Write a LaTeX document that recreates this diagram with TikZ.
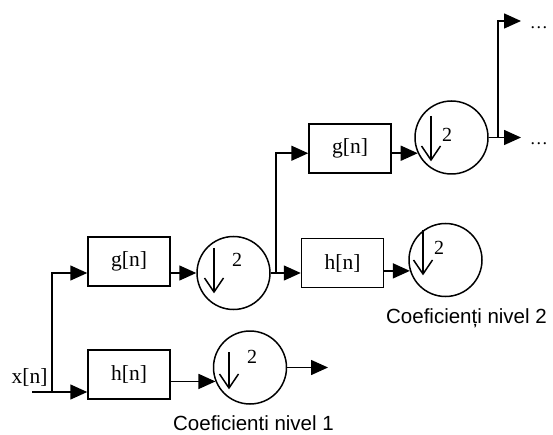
\documentclass[tikz,border=0pt]{standalone}
\usepackage{fontspec}
\setmainfont{Liberation Serif}
\newfontfamily\arialf{Liberation Sans}
\usetikzlibrary{arrows.meta,calc}
\newcommand\dnarrow[4]{%
  \draw ($(#1)+(#2,#3)$) -- ($(#1)+(#2,#4)$);
  \draw[line join=miter] ($(#1)+(#2,#4)+(-9.5,-14)$) -- ($(#1)+(#2,#4)$) -- ($(#1)+(#2,#4)+(9.5,-14)$);}
\begin{document}
\begin{tikzpicture}[x=1pt,y=-1pt,
  line width=1.5pt,
  blk/.style={draw,minimum width=82pt,minimum height=49pt,inner sep=0pt,font=\fontsize{21.5}{24}\selectfont},
  dwn/.style={draw,circle,minimum size=73pt,inner sep=0pt},
  arr/.style={-{Triangle[length=17pt,width=15pt]}},
  two/.style={font=\fontsize{20}{22}\selectfont,inner sep=0pt},
  lbl/.style={font=\arialf\fontsize{20.5}{24}\selectfont,inner sep=0pt,anchor=base},
  txt/.style={font=\fontsize{21.5}{24}\selectfont,inner sep=0pt}]
\useasboundingbox (0,0) rectangle (553,435);
% blocks
\node[blk] (g1) at (129,261.5) {g[n]};
\node[blk] (h1) at (129,374.5) {h[n]};
\node[blk] (g2) at (350,148.5) {g[n]};
\node[blk] (h2) at (342.5,263) {h[n]};
% downsamplers
\node[dwn] (c1) at (233.5,273) {};
\node[dwn] (c2) at (250,367.5) {};
\node[dwn] (c3) at (451.5,137.5) {};
\node[dwn] (c4) at (445.5,260) {};
\dnarrow{c1}{-19.5}{-25}{19}
\dnarrow{c2}{-21}{-15.5}{20.5}
\dnarrow{c3}{-20.5}{-21.5}{22.5}
\dnarrow{c4}{-22.5}{-30}{14}
\node[two] (t1) at ($(c1)+(3.5,-13)$) {2};
\node[two] (t2) at ($(c2)+(2,-10.5)$) {2};
\node[two] (t3) at ($(c3)+(-4.5,-2.5)$) {2};
\node[two] (t4) at ($(c4)+(-6.5,-12)$) {2};
% input
\node[txt] (x) at (29.5,377) {x[n]};
\coordinate (xin) at (32,392);
\coordinate (sp1) at (52,392);
\draw[arr] (xin) -- (h1.west |- xin);
\draw[arr] (sp1) |- ($(g1.west)+(0,11.5)$);
\draw[arr] (g1.east |- c1.west) -- (c1.west);
\draw[arr] (h1.east |- c2.202) -- (c2.202);
% level 1 output
\coordinate (o1) at (328,367.5);
\draw[arr] (c2.east) -- (o1);
% split to level 2
\coordinate (sp2) at (276,273);
\draw (c1.east) -- (sp2);
\draw[arr] (sp2) |- (g2.west |- c3.205);
\draw[arr] (sp2) -- (h2.west |- sp2);
\draw[arr] (g2.east |- c3.205) -- (c3.205);
\draw[arr] (h2.east |- c4.197) -- (c4.197);
% level 2 outputs
\coordinate (sp3) at (498,137.5);
\coordinate (o2) at (521,137.5);
\coordinate (o3) at (521,21);
\draw[arr] (c3.east) -- (o2);
\draw[arr] (sp3) |- (o3);
\node[anchor=base west,inner sep=0pt,font=\fontsize{18}{20}\selectfont] (d1) at (529,29) {…};
\node[anchor=base west,inner sep=0pt,font=\fontsize{18}{20}\selectfont] (d2) at (529,145) {…};
% captions
\node[lbl] (l2) at (466.5,323) {Coeficienți nivel 2};
\node[lbl] (l1) at (253.5,430.5) {Coeficienti nivel 1};
\end{tikzpicture}
\end{document}
